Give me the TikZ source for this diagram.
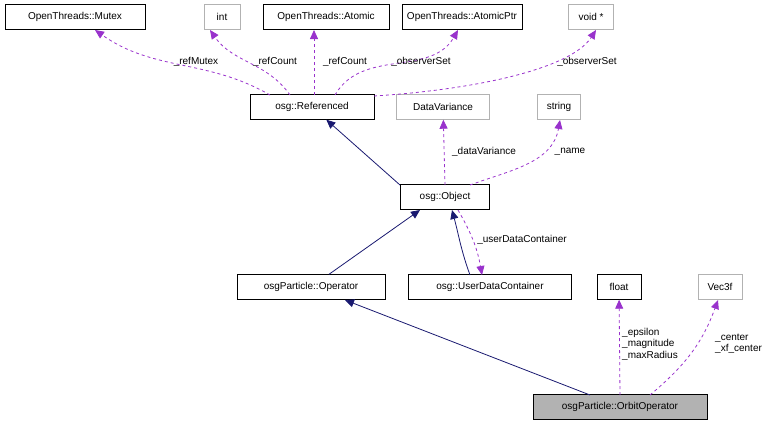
\documentclass[tikz,border=0pt]{standalone}
\usepackage{fontspec}
\setmainfont{Liberation Sans}
\usetikzlibrary{arrows.meta}
\begin{document}
\begin{tikzpicture}[x=1pt,y=-1pt,
 box/.style={draw=black,minimum height=25pt,inner sep=2pt,font=\fontsize{10}{12}\selectfont},
 gbox/.style={box,draw=gray!60},
 inh/.style={draw={rgb,255:red,25;green,25;blue,112},line width=0.8pt,-{Triangle[length=9pt,width=8pt]}},
 use/.style={draw={rgb,255:red,153;green,50;blue,204},dashed,line width=0.8pt,-{Triangle[length=9pt,width=8pt]}},
 lbl/.style={font=\fontsize{10}{11.5}\selectfont,inner sep=1pt,align=left}]
\useasboundingbox (0,0) rectangle (784,424);
\node[box,minimum width=140pt] (mutex) at (75,17) {OpenThreads::Mutex};
\node[gbox,minimum width=36pt] (int) at (222,17) {int};
\node[box,minimum width=126pt] (atomic) at (326,17) {OpenThreads::Atomic};
\node[box,minimum width=120pt] (aptr) at (462,17) {OpenThreads::AtomicPtr};
\node[gbox,minimum width=45pt] (void) at (591,17) {void *};
\node[box,minimum width=124pt] (ref) at (312,107) {osg::Referenced};
\node[gbox,minimum width=93pt] (dv) at (443,107) {DataVariance};
\node[gbox,minimum width=43pt] (str) at (559,107) {string};
\node[box,minimum width=89pt] (obj) at (445,197) {osg::Object};
\node[box,minimum width=148pt] (op) at (311,287) {osgParticle::Operator};
\node[box,minimum width=163pt] (udc) at (490,287) {osg::UserDataContainer};
\node[box,minimum width=44pt] (float) at (619,287) {float};
\node[gbox,minimum width=44pt] (vec) at (720,287) {Vec3f};
\node[box,fill=gray!60,minimum width=174pt] (orb) at (620,407) {osgParticle::OrbitOperator};

\draw[use] (270,95) to[out=150,in=-35] (95,30);
\draw[use] (290,95) to[out=125,in=-55] (210,30);
\draw[use] (314,95) -- (314,30);
\draw[use] (335,95) to[out=60,in=-120] (458,30);
\draw[use] (374,96) .. controls (470,90) and (570,70) .. (596,30);
\draw[inh] (400,185) -- (ref);
\draw[use] (445,185) -- (dv);
\draw[use] (470,185) to[out=20,in=-100] (560,120);
\draw[inh] (op) -- (420,210);
\draw[inh] (470,275) to[out=110,in=-75] (452,210);
\draw[use] (458,210) to[out=-60,in=100] (482,275);
\draw[inh] (590,395) -- (345,300);
\draw[use] (620,395) -- (float);
\draw[use] (650,395) to[out=40,in=-110] (718,300);

\node[lbl] at (196,62) {\_refMutex};
\node[lbl] at (275,62) {\_refCount};
\node[lbl] at (345,62) {\_refCount};
\node[lbl] at (421,62) {\_observerSet};
\node[lbl] at (587,62) {\_observerSet};
\node[lbl] at (484,152) {\_dataVariance};
\node[lbl] at (570,152) {\_name};
\node[lbl] at (522,240) {\_userDataContainer};
\node[lbl,anchor=west] at (621,344) {\_epsilon\\\_magnitude\\\_maxRadius};
\node[lbl,anchor=west] at (714,344) {\_center\\\_xf\_center};
\end{tikzpicture}
\end{document}
